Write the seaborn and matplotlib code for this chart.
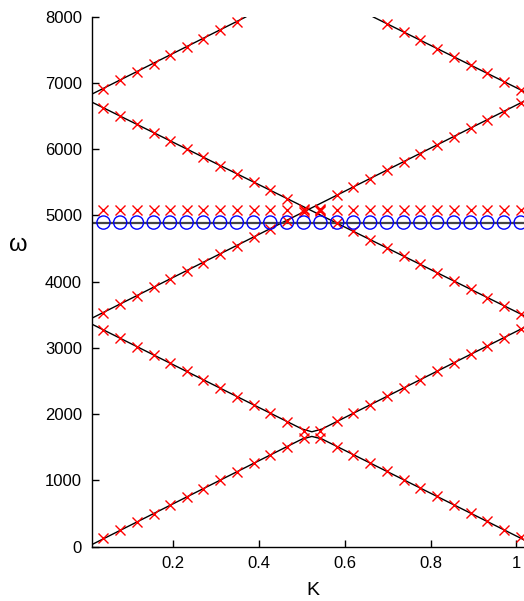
import numpy as np
import pandas as pd
import matplotlib
matplotlib.use("Agg")
import matplotlib.pyplot as plt
import seaborn as sns

# wave numbers where the modes were computed
k_points = [0.037, 0.076, 0.115, 0.154, 0.192, 0.231, 0.270, 0.309, 0.348,
            0.387, 0.426, 0.465, 0.504, 0.543, 0.582, 0.620, 0.659, 0.698,
            0.737, 0.776, 0.815, 0.854, 0.893, 0.932, 0.971, 1.010]

# computed eigenfrequencies (red crosses), one list per band
band1 = [130, 247, 374, 500, 624, 751, 878, 1004, 1131, 1258, 1385, 1511, 1645,
         1645, 1512, 1389, 1263, 1137, 1011, 885, 759, 633, 507, 381, 255, 140]
band2 = [3272, 3146, 3020, 2894, 2771, 2645, 2519, 2393, 2267, 2141, 2016, 1890, 1745,
         1745, 1892, 2015, 2142, 2269, 2395, 2522, 2649, 2776, 2902, 3029, 3156, 3283]
band3 = [3533, 3660, 3786, 3913, 4037, 4163, 4290, 4417, 4543, 4670, 4797, 4924, 5050,
         5060, 4881, 4759, 4635, 4510, 4385, 4260, 4136, 4011, 3886, 3761, 3637, 3512]
band4 = [6624, 6499, 6374, 6250, 6128, 6003, 5879, 5754, 5629, 5504, 5380, 5255, 5100,
         5095, 5304, 5428, 5554, 5681, 5808, 5934, 6061, 6188, 6315, 6441, 6568, 6695]
band5_k = [0.037, 0.076, 0.115, 0.154, 0.192, 0.231, 0.270, 0.309, 0.348]
band5 = [6913, 7040, 7166, 7293, 7417, 7543, 7670, 7797, 7923]
band6_k = [0.698, 0.737, 0.776, 0.815, 0.854, 0.893, 0.932, 0.971, 1.010]
band6 = [7894, 7769, 7644, 7520, 7395, 7270, 7145, 7021, 6896]
flat_red = [5075] * 26
flat_blue = [4893] * 26

# reference dispersion lines (black)
lines = {
    "l1": ([0.0095, 0.500, 0.523, 0.546, 1.019], [31, 1625, 1665, 1628, 100]),
    "l2": ([0.0095, 0.500, 0.523, 0.546, 1.019], [3361, 1777, 1735, 1775, 3312]),
    "l3": ([0.0095, 1.019], [3448, 6728]),
    "l4": ([0.0095, 1.019], [6712, 3484]),
    "l5": ([0.0095, 0.370], [6830, 8000]),
    "l6": ([0.665, 1.019], [8000, 6867]),
}
flat_line = ([0.0095, 1.019], [4893, 4893])

x_ticks = [0.2, 0.4, 0.6, 0.8, 1.0]
x_tick_labels = ["0.2", "0.4", "0.6", "0.8", "1"]
y_ticks = list(range(0, 8001, 1000))

sns.set_style("ticks", {"axes.edgecolor": "black", "text.color": "black",
                        "axes.labelcolor": "black", "xtick.color": "black",
                        "ytick.color": "black"})
plt.rcParams["font.family"] = ["Liberation Sans", "DejaVu Sans"]

fig = plt.figure(figsize=(5.24, 6.01), dpi=100)
ax = fig.add_axes([0.175, 0.0903, 0.826, 0.8819])

line_df = pd.concat(
    [pd.DataFrame({"K": k, "w": w, "line": name}) for name, (k, w) in lines.items()]
)
sns.lineplot(data=line_df, x="K", y="w", units="line", estimator=None, sort=False,
             color="black", linewidth=1.0, ax=ax)
ax.plot(flat_line[0], flat_line[1], color="#444444", linewidth=1.6)

red_df = pd.concat([
    pd.DataFrame({"K": k_points, "w": band1}),
    pd.DataFrame({"K": k_points, "w": band2}),
    pd.DataFrame({"K": k_points, "w": band3}),
    pd.DataFrame({"K": k_points, "w": band4}),
    pd.DataFrame({"K": band5_k, "w": band5}),
    pd.DataFrame({"K": band6_k, "w": band6}),
    pd.DataFrame({"K": k_points, "w": flat_red}),
])
sns.scatterplot(data=red_df, x="K", y="w", marker="x", color="red", s=52,
                linewidth=1.0, ax=ax, zorder=3)
sns.scatterplot(x=k_points, y=flat_blue, marker="o", s=90, facecolors="none",
                edgecolors="blue", linewidth=1.0, ax=ax, zorder=3)

ax.set_xlim(0.0095, 1.019)
ax.set_ylim(0, 8000)
ax.set_xticks(x_ticks)
ax.set_xticklabels(x_tick_labels)
ax.set_yticks(y_ticks)
ax.tick_params(direction="in", length=5, width=1, labelsize=12, pad=7)
sns.despine(ax=ax)
ax.spines["left"].set_linewidth(1)
ax.spines["bottom"].set_linewidth(1)

ax.set_xlabel("K", fontsize=14)
ax.set_ylabel("ω", fontsize=17, rotation=0, ha="center", va="center")
ax.xaxis.set_label_coords(0.51, -0.066)
ax.yaxis.set_label_coords(-0.17, 0.569)

fig.savefig("out.png", dpi=100)
